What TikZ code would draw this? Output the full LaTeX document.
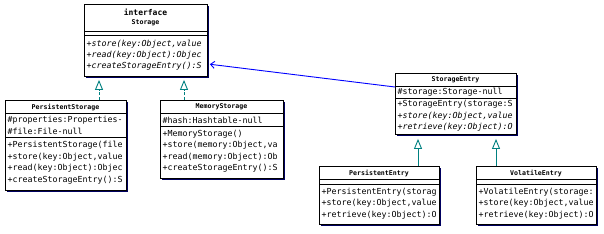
\documentclass[tikz,border=0pt]{standalone}
\usepackage{fontspec}
\setmonofont{DejaVu Sans Mono}
\usetikzlibrary{arrows.meta,shadows}
\definecolor{navy}{HTML}{000060}
\definecolor{tealc}{HTML}{008080}
\definecolor{assoc}{HTML}{0000FF}
\tikzset{
 cls/.style={draw=black, line width=0.9pt, fill=white, anchor=north west, inner sep=0pt,
   drop shadow={shadow xshift=2pt, shadow yshift=-2pt, fill=navy, opacity=1}},
 mem/.style={anchor=west, inner sep=0pt, font=\ttfamily\fontsize{8.3}{9}\selectfont},
 absm/.style={anchor=west, inner sep=0pt, font=\ttfamily\itshape\fontsize{8.3}{9}\selectfont},
 ttl/.style={inner sep=0pt, font=\ttfamily\bfseries\fontsize{6.6}{7}\selectfont},
 ittl/.style={inner sep=0pt, font=\ttfamily\bfseries\fontsize{8}{9}\selectfont},
 sepl/.style={line width=0.9pt},
 realize/.style={draw=tealc, line width=0.9pt, dash pattern=on 3pt off 2pt,
   -{Triangle[open,length=10pt,width=8pt]}, shorten >=3pt},
 inherit/.style={draw=tealc, line width=0.9pt,
   -{Triangle[open,length=10pt,width=8pt]}, shorten >=4pt},
 assocl/.style={draw=assoc, line width=0.9pt, -{Straight Barb[length=4pt,width=7pt]}, shorten >=2pt},
}
\begin{document}
\begin{tikzpicture}[x=1pt,y=-1pt]
\useasboundingbox (0,0) rectangle (604,233);
% boxes
\node[cls, minimum width=123pt, minimum height=72pt] (storage) at (84,4) {};
\node[cls, minimum width=121pt, minimum height=90pt] (pstore) at (5,100) {};
\node[cls, minimum width=123pt, minimum height=78pt] (mstore) at (160,100) {};
\node[cls, minimum width=121pt, minimum height=61pt] (sentry) at (395,73) {};
\node[cls, minimum width=120pt, minimum height=58pt] (pentry) at (319,166) {};
\node[cls, minimum width=120pt, minimum height=58pt] (ventry) at (476,166) {};

% Storage
\node[ittl] (st-t1) at (145.5,12) {interface};
\node[ttl] (st-t2) at (145.5,23) {Storage};
\draw[sepl] (storage.west |- 0,31) -- (storage.east |- 0,31);
\draw[sepl] (storage.west |- 0,35) -- (storage.east |- 0,35);
\node[absm] (st-m1) at (86.5,44) {+store(key:Object,value};
\node[absm] (st-m2) at (86.5,55) {+read(key:Object):Objec};
\node[absm] (st-m3) at (86.5,66) {+createStorageEntry():S};

% PersistentStorage
\node[ttl] (ps-t) at (65.5,107) {PersistentStorage};
\draw[sepl] (pstore.west |- 0,113) -- (pstore.east |- 0,113);
\node[mem] (ps-a1) at (7.5,120) {\#properties:Properties-};
\node[mem] (ps-a2) at (7.5,131) {\#file:File-null};
\draw[sepl] (pstore.west |- 0,137) -- (pstore.east |- 0,137);
\node[mem] (ps-m1) at (7.5,145) {+PersistentStorage(file};
\node[mem] (ps-m2) at (7.5,157) {+store(key:Object,value};
\node[mem] (ps-m3) at (7.5,168.5) {+read(key:Object):Objec};
\node[mem] (ps-m4) at (7.5,180) {+createStorageEntry():S};

% MemoryStorage
\node[ttl] (ms-t) at (221.5,107) {MemoryStorage};
\draw[sepl] (mstore.west |- 0,113) -- (mstore.east |- 0,113);
\node[mem] (ms-a1) at (162.5,120) {\#hash:Hashtable-null};
\draw[sepl] (mstore.west |- 0,126) -- (mstore.east |- 0,126);
\node[mem] (ms-m1) at (162.5,134) {+MemoryStorage()};
\node[mem] (ms-m2) at (162.5,145.5) {+store(memory:Object,va};
\node[mem] (ms-m3) at (162.5,157) {+read(memory:Object):Ob};
\node[mem] (ms-m4) at (162.5,168.5) {+createStorageEntry():S};

% StorageEntry
\node[ttl] (se-t) at (455.5,80) {StorageEntry};
\draw[sepl] (sentry.west |- 0,86) -- (sentry.east |- 0,86);
\node[mem] (se-a1) at (397.5,92) {\#storage:Storage-null};
\draw[sepl] (sentry.west |- 0,98) -- (sentry.east |- 0,98);
\node[mem] (se-m1) at (397.5,104.5) {+StorageEntry(storage:S};
\node[absm] (se-m2) at (397.5,116) {+store(key:Object,value};
\node[absm] (se-m3) at (397.5,127.5) {+retrieve(key:Object):O};

% PersistentEntry
\node[ttl] (pe-t) at (379,173) {PersistentEntry};
\draw[sepl] (pentry.west |- 0,179) -- (pentry.east |- 0,179);
\draw[sepl] (pentry.west |- 0,184) -- (pentry.east |- 0,184);
\node[mem] (pe-m1) at (321.5,192) {+PersistentEntry(storag};
\node[mem] (pe-m2) at (321.5,203.5) {+store(key:Object,value};
\node[mem] (pe-m3) at (321.5,215) {+retrieve(key:Object):O};

% VolatileEntry
\node[ttl] (ve-t) at (536,173) {VolatileEntry};
\draw[sepl] (ventry.west |- 0,179) -- (ventry.east |- 0,179);
\draw[sepl] (ventry.west |- 0,184) -- (ventry.east |- 0,184);
\node[mem] (ve-m1) at (478.5,192) {+VolatileEntry(storage:};
\node[mem] (ve-m2) at (478.5,203.5) {+store(key:Object,value};
\node[mem] (ve-m3) at (478.5,215) {+retrieve(key:Object):O};

% connectors
\coordinate (a1) at (99,0);
\coordinate (a2) at (184,0);
\coordinate (a3) at (418,0);
\coordinate (a4) at (496,0);
\coordinate (c1) at (0,87);
\coordinate (c2) at (0,64);
\draw[realize] (pstore.north -| a1) -- (storage.south -| a1);
\draw[realize] (mstore.north -| a2) -- (storage.south -| a2);
\draw[inherit] (pentry.north -| a3) -- (sentry.south -| a3);
\draw[inherit] (ventry.north -| a4) -- (sentry.south -| a4);
\draw[assocl] (sentry.west |- c1) -- (storage.east |- c2);
\end{tikzpicture}
\end{document}
